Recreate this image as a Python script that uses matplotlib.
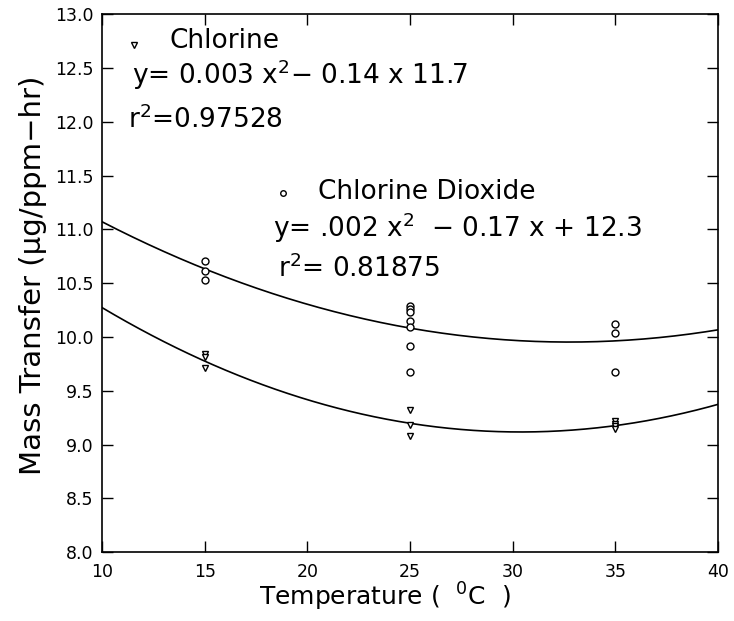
import numpy as np
import matplotlib
matplotlib.use('Agg')
import matplotlib.pyplot as plt

cl_temp = [15, 15, 15, 25, 25, 25, 35, 35, 35, 35]
cl_mass = [9.84, 9.81, 9.71, 9.32, 9.18, 9.08, 9.22, 9.19, 9.17, 9.14]

cd_temp = [15, 15, 15, 25, 25, 25, 25, 25, 25, 25, 35, 35, 35]
cd_mass = [10.71, 10.61, 10.53, 10.29, 10.26, 10.23, 10.15, 10.09, 9.92, 9.67,
           10.12, 10.04, 9.67]

# quadratic fit coefficients (a, b, c) as drawn
cl_fit = [0.00278, -0.169, 11.685]
cd_fit = [0.00216, -0.1415, 12.27]

x_ticks = [10, 15, 20, 25, 30, 35, 40]
y_ticks = [8.0, 8.5, 9.0, 9.5, 10.0, 10.5, 11.0, 11.5, 12.0, 12.5, 13.0]

plt.rcParams['font.family'] = ['DejaVu Sans']
plt.rcParams['mathtext.fontset'] = 'dejavusans'

fig = plt.figure(figsize=(7.34, 6.21), dpi=100)
ax = fig.add_axes([0.139, 0.111, 0.839, 0.866])

xs = np.linspace(10, 40, 200)
ax.plot(xs, np.polyval(cl_fit, xs), color='black', lw=1.2)
ax.plot(xs, np.polyval(cd_fit, xs), color='black', lw=1.2)

ax.plot(cl_temp, cl_mass, linestyle='none', marker='v', ms=5,
        mfc='white', mec='black', mew=1.0)
ax.plot(cd_temp, cd_mass, linestyle='none', marker='o', ms=5,
        mfc='white', mec='black', mew=1.0)

# annotation block
FS = 19
ax.plot([0.052], [0.942], transform=ax.transAxes, marker='v', ms=4,
        mfc='white', mec='black', mew=1.0, linestyle='none')
ax.text(0.110, 0.937, 'Chlorine', transform=ax.transAxes, fontsize=FS,
        va='baseline')
ax.text(0.049, 0.870, r'y= 0.003 x$^2$− 0.14 x 11.7', transform=ax.transAxes,
        fontsize=FS, va='baseline')
ax.text(0.042, 0.788, r'r$^2$=0.97528', transform=ax.transAxes, fontsize=FS,
        va='baseline')

ax.plot([0.294], [0.667], transform=ax.transAxes, marker='o', ms=4,
        mfc='white', mec='black', mew=1.0, linestyle='none')
ax.text(0.351, 0.656, 'Chlorine Dioxide', transform=ax.transAxes, fontsize=FS,
        va='baseline')
ax.text(0.278, 0.586, r'y= .002 x$^2$  − 0.17 x + 12.3', transform=ax.transAxes,
        fontsize=FS, va='baseline')
ax.text(0.286, 0.511, r'r$^2$= 0.81875', transform=ax.transAxes, fontsize=FS,
        va='baseline')

ax.set_xlim(10, 40)
ax.set_ylim(8, 13)
ax.set_xticks(x_ticks)
ax.set_yticks(y_ticks)
ax.set_yticklabels([f'{v:.1f}' for v in y_ticks])
ax.tick_params(direction='in', length=8, width=1, labelsize=12.5,
               top=True, right=True)
ax.tick_params(axis='x', pad=8)
ax.tick_params(axis='y', pad=6)
for s in ax.spines.values():
    s.set_linewidth(1.2)

ax.set_xlabel(r'Temperature (  $^0$C  )', fontsize=18, labelpad=0, x=0.46)
ax.set_ylabel('Mass Transfer (μg/ppm−hr)', fontsize=21, labelpad=6, y=0.515)

fig.savefig('out.png', dpi=100)
